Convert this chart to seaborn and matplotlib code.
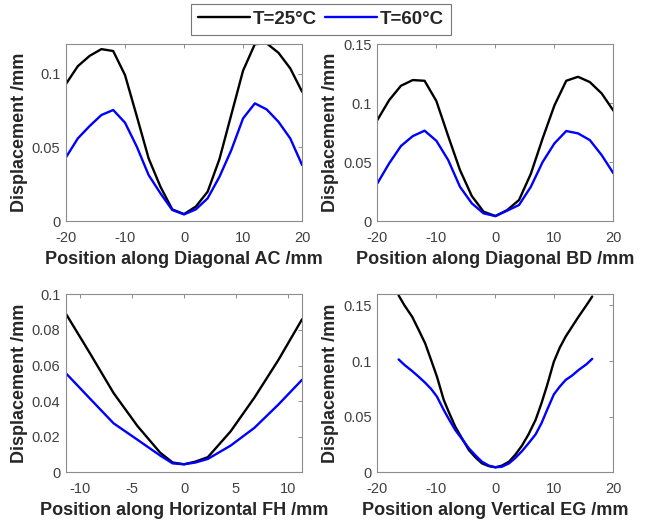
import numpy as np
import pandas as pd
import matplotlib
matplotlib.use("Agg")
import matplotlib.pyplot as plt
from matplotlib.ticker import FuncFormatter
from matplotlib.lines import Line2D
import seaborn as sns

# diagonal AC
x_ac = [-20, -18, -16, -14, -12, -10, -8, -6, -4, -2, 0, 2, 4, 6, 8, 10, 12, 14, 16, 18, 20]
ac_25 = [0.093, 0.105, 0.112, 0.1166, 0.1153, 0.099, 0.071, 0.0425, 0.0233, 0.0079, 0.0047,
         0.0098, 0.0199, 0.042, 0.072, 0.102, 0.120, 0.1205, 0.1141, 0.1035, 0.0877]
ac_60 = [0.0432, 0.056, 0.0644, 0.0719, 0.0753, 0.0667, 0.0504, 0.0312, 0.0188, 0.0075, 0.0045,
         0.0079, 0.0154, 0.030, 0.048, 0.0696, 0.0798, 0.0757, 0.0673, 0.056, 0.038]

# diagonal BD
x_bd = [-20, -18, -16, -14, -12, -10, -8, -6, -4, -2, 0, 2, 4, 6, 8, 10, 12, 14, 16, 18, 20]
bd_25 = [0.0856, 0.1025, 0.1147, 0.1195, 0.1189, 0.1017, 0.072, 0.0432, 0.0212, 0.0079, 0.0042,
         0.0093, 0.0178, 0.040, 0.070, 0.098, 0.1189, 0.1223, 0.1178, 0.1082, 0.0935]
bd_60 = [0.0319, 0.0489, 0.0636, 0.072, 0.0766, 0.068, 0.0517, 0.029, 0.015, 0.0065, 0.0042,
         0.0088, 0.0136, 0.029, 0.050, 0.0658, 0.0763, 0.0743, 0.0686, 0.0559, 0.0404]

# horizontal FH
x_fh = [-11.4, -9.1, -6.8, -4.5, -2.3, -1.1, 0, 1.1, 2.3, 4.5, 6.8, 9.1, 11.4]
fh_25 = [0.089, 0.067, 0.0445, 0.026, 0.011, 0.0055, 0.0045, 0.006, 0.0085, 0.023, 0.042, 0.063, 0.086]
fh_60 = [0.0556, 0.0415, 0.0275, 0.0183, 0.0094, 0.005, 0.0045, 0.0055, 0.0075, 0.015, 0.025, 0.038, 0.052]

# vertical EG
x_eg = [-16.4, -15.4, -14.1, -13.0, -11.9, -10.9, -9.9, -8.75, -7.8, -6.8, -5.6, -4.5, -3.4, -2.3, -1.1, 0,
        1.1, 2.3, 3.4, 4.5, 5.6, 6.8, 7.8, 8.75, 9.9, 10.9, 11.9, 13.0, 14.1, 15.4, 16.4]
eg_25 = [0.159, 0.150, 0.1398, 0.128, 0.1159, 0.101, 0.0859, 0.065, 0.053, 0.041, 0.030, 0.020, 0.0135, 0.0081, 0.0055, 0.0045,
         0.006, 0.0095, 0.016, 0.024, 0.034, 0.047, 0.062, 0.078, 0.0994, 0.112, 0.122, 0.131, 0.140, 0.150, 0.158]
eg_60 = [0.1015, 0.0965, 0.091, 0.0859, 0.0805, 0.075, 0.068, 0.056, 0.047, 0.038, 0.0295, 0.0216, 0.0153, 0.0096, 0.006, 0.0045,
         0.005, 0.008, 0.013, 0.019, 0.026, 0.034, 0.044, 0.056, 0.070, 0.077, 0.083, 0.087, 0.092, 0.097, 0.102]

series = ["T=25°C", "T=60°C"]
colors = {"T=25°C": "black", "T=60°C": "#0000ff"}

panels = [
    ("Position along Diagonal AC /mm", x_ac, ac_25, ac_60, (-20, 20), (0, 0.12), [-20, -10, 0, 10, 20], [0, 0.05, 0.1]),
    ("Position along Diagonal BD /mm", x_bd, bd_25, bd_60, (-20, 20), (0, 0.15), [-20, -10, 0, 10, 20], [0, 0.05, 0.1, 0.15]),
    ("Position along Horizontal FH /mm", x_fh, fh_25, fh_60, (-11.4, 11.4), (0, 0.1), [-10, -5, 0, 5, 10], [0, 0.02, 0.04, 0.06, 0.08, 0.1]),
    ("Position along Vertical EG /mm", x_eg, eg_25, eg_60, (-20, 20), (0, 0.16), [-20, -10, 0, 10, 20], [0, 0.05, 0.1, 0.15]),
]

sns.set_style("white")
plt.rcParams["font.family"] = ["Liberation Sans", "DejaVu Sans"]

fig = plt.figure(figsize=(6.54, 5.25), dpi=100)
rects = [
    [0.1009, 0.579, 0.361, 0.337],
    [0.577, 0.579, 0.361, 0.337],
    [0.1009, 0.1004, 0.361, 0.339],
    [0.577, 0.1004, 0.361, 0.339],
]

fmt = FuncFormatter(lambda v, p: "%g" % v)

for rect, (xlabel, xs, y25, y60, xlim, ylim, xt, yt) in zip(rects, panels):
    ax = fig.add_axes(rect)
    df = pd.DataFrame({
        "x": list(xs) * 2,
        "y": list(y25) + list(y60),
        "T": [series[0]] * len(xs) + [series[1]] * len(xs),
    })
    sns.lineplot(data=df, x="x", y="y", hue="T", palette=colors, sort=False,
                 linewidth=1.7, legend=False, ax=ax)
    ax.set_xlim(*xlim)
    ax.set_ylim(*ylim)
    ax.set_xticks(xt)
    ax.set_yticks(yt)
    ax.xaxis.set_major_formatter(fmt)
    ax.yaxis.set_major_formatter(fmt)
    ax.tick_params(direction="in", length=3, width=0.7, colors="#8c8c8c",
                   labelcolor="#404040", labelsize=10.5, top=True, right=True)
    ax.tick_params(axis="x", pad=7)
    ax.tick_params(axis="y", pad=4)
    for s in ax.spines.values():
        s.set_color("#8c8c8c")
        s.set_linewidth(0.8)
    ax.set_xlabel(xlabel, fontsize=13, fontweight="bold", color="#262626", labelpad=4.5)
    ax.set_ylabel("Displacement /mm", fontsize=13, fontweight="bold", color="#262626", labelpad=3)

handles = [Line2D([], [], color=colors[s], lw=1.7) for s in series]
leg = fig.legend(handles, series, loc="center", bbox_to_anchor=(0.491, 0.963), ncol=2,
                 frameon=True, fancybox=False, handlelength=2.8, handletextpad=0.15,
                 columnspacing=0.4, borderpad=0.35, prop={"size": 13.5, "weight": "bold"})
leg.get_frame().set_edgecolor("#555555")
leg.get_frame().set_linewidth(0.8)

fig.savefig("out.png", dpi=100)
